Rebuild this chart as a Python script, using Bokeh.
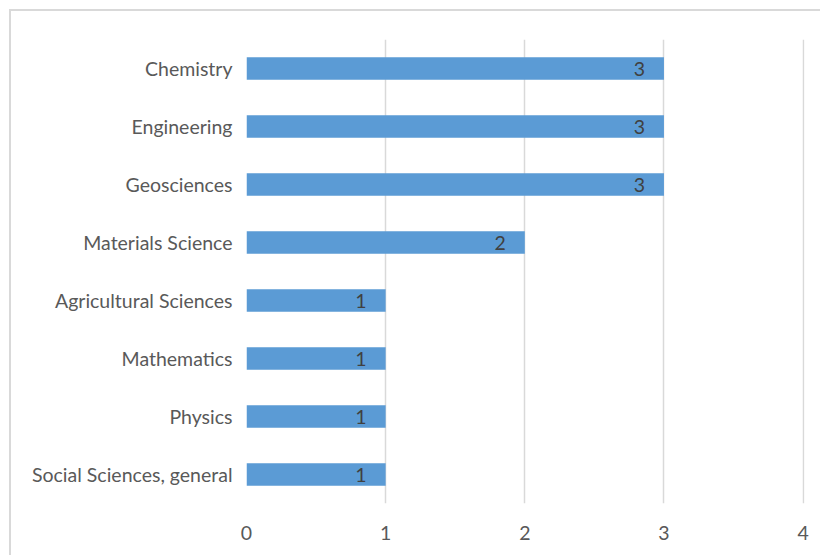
from bokeh.plotting import figure
from bokeh.models import ColumnDataSource, FixedTicker
from bokeh.core.properties import value
from bokeh.embed import file_html
from bokeh.resources import INLINE

categories = ["Social Sciences, general", "Physics", "Mathematics", "Agricultural Sciences",
              "Materials Science", "Geosciences", "Engineering", "Chemistry"]
counts = [1, 1, 1, 1, 2, 3, 3, 3]
x_ticks = [0, 1, 2, 3, 4]

FONT = "Lato"
src = ColumnDataSource(dict(cat=categories, val=counts, lbl=[str(v) for v in counts]))

p = figure(y_range=categories, x_range=(0, 4.01), output_backend="svg", toolbar_location=None,
           width=809, height=544, frame_width=558, frame_height=464,
           min_border_left=235, min_border_top=28, min_border_bottom=52, min_border_right=16,
           styles={"margin-left": "9px", "margin-top": "9px",
                   "border-left": "2px solid #d9d9d9", "border-top": "2px solid #d9d9d9"})
p.outline_line_color = None
p.background_fill_color = "white"
p.border_fill_color = "white"

p.hbar(y="cat", right="val", left=0, height=0.39, source=src, color="#5b9bd5", line_color=None)
p.text(x="val", y="cat", text="lbl", source=src, text_align="right", text_baseline="middle",
       x_offset=-19, text_font=value(FONT), text_font_size="19.5px", text_color="#404040")

p.xaxis.ticker = FixedTicker(ticks=x_ticks)
p.xgrid.ticker = FixedTicker(ticks=x_ticks)
p.xgrid.grid_line_color = "#d9d9d9"
p.xgrid.grid_line_width = 1.5
p.ygrid.grid_line_color = None

for ax in (p.xaxis, p.yaxis):
    ax.axis_line_color = None
    ax.major_tick_line_color = None
    ax.minor_tick_line_color = None
    ax.major_tick_out = 0
    ax.major_tick_in = 0
    ax.major_label_text_font = FONT
    ax.major_label_text_font_size = "19.5px"
    ax.major_label_text_color = "#595959"
p.yaxis.major_label_standoff = 14
p.xaxis.major_label_standoff = 22

open("out.html", "w").write(file_html(p, INLINE))
